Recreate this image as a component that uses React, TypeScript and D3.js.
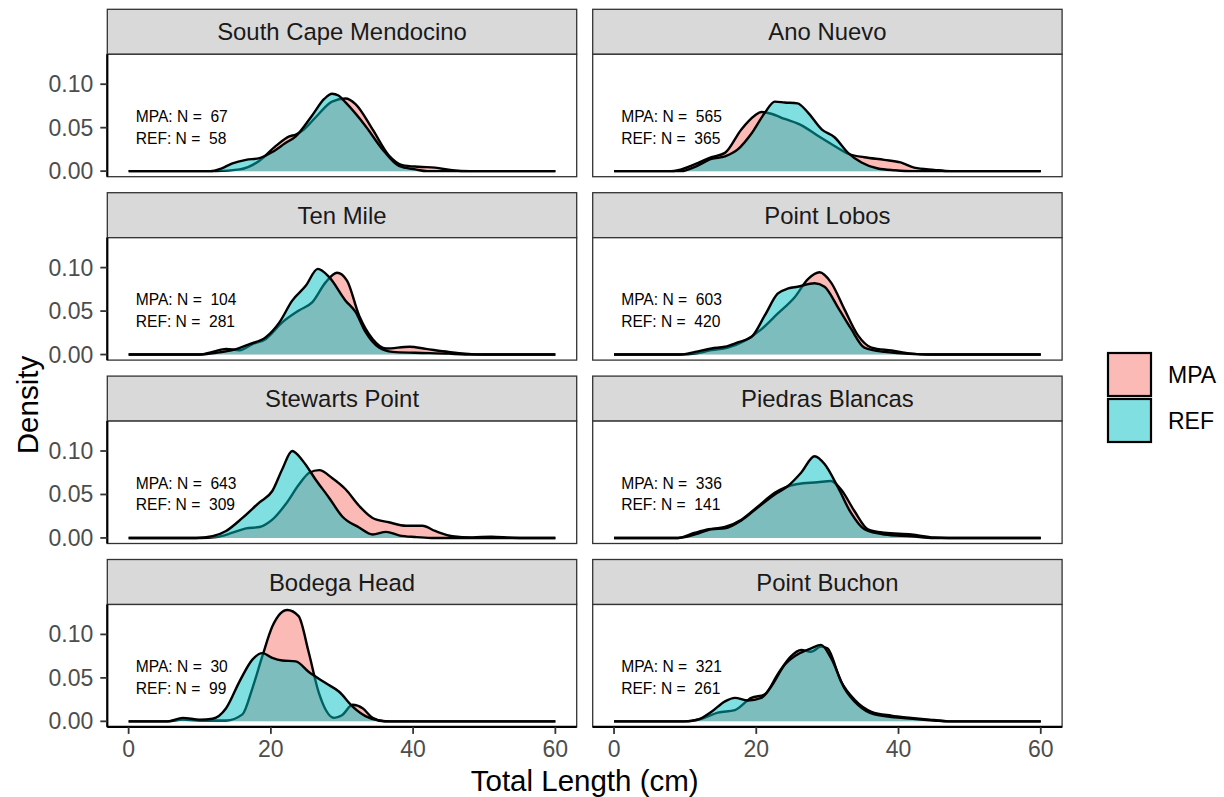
import React from "react";
import * as d3 from "d3";

// ---------- data ----------
const sites = [
  "South Cape Mendocino",
  "Ano Nuevo",
  "Ten Mile",
  "Point Lobos",
  "Stewarts Point",
  "Piedras Blancas",
  "Bodega Head",
  "Point Buchon",
];
const groups = ["MPA", "REF"];
const groupColors = ["#F8766D", "#00BFC4"];
const nMPA = [67, 565, 104, 603, 643, 336, 30, 321];
const nREF = [58, 365, 281, 420, 309, 141, 99, 261];
const xTicks = [0, 20, 40, 60];
const yTicks = [0, 0.05, 0.1];

// density curves: [total length (cm), density]
const southCapeMPA = [[0,0],[12.3,0],[15.6,0.002],[18.4,0.012],[20.7,0.029],[22.6,0.040],[23.5,0.042],[24.5,0.047],[26.3,0.062],[28.6,0.080],[30.5,0.0835],[31.9,0.077],[34.3,0.048],[36.6,0.018],[38.5,0.007],[40.8,0.005],[43.1,0.004],[45.5,0.001],[48,0],[60,0]];
const southCapeREF = [[0,0],[11.5,0],[13,0.003],[14.6,0.009],[16.5,0.013],[18.4,0.015],[20.2,0.022],[22,0.032],[23.5,0.040],[25.8,0.064],[27.5,0.083],[28.6,0.089],[29.5,0.087],[30.5,0.079],[33.3,0.052],[35.7,0.025],[38,0.006],[40.3,0.002],[42,0],[60,0]];
const anoNuevoMPA = [[0,0],[8,0],[9,0.001],[11.4,0.008],[13.7,0.016],[15.6,0.021],[17.9,0.048],[19.8,0.064],[20.7,0.068],[22.1,0.066],[24,0.060],[26.3,0.053],[28.6,0.041],[31,0.029],[32.9,0.020],[35.2,0.016],[38,0.013],[40.3,0.010],[42.2,0.004],[45,0.0015],[47.3,0],[60,0]];
const anoNuevoREF = [[0,0],[9.5,0],[11.4,0.005],[13.7,0.014],[15.6,0.017],[17.4,0.025],[19.3,0.043],[21.2,0.067],[22.6,0.080],[24,0.079],[25.8,0.078],[27.3,0.067],[29.2,0.048],[31,0.039],[32.9,0.021],[34.8,0.010],[37.1,0.003],[39.5,0.001],[42,0],[60,0]];
const tenMileMPA = [[0,0],[10,0],[11.8,0.003],[13.7,0.0065],[15.6,0.005],[17.4,0.012],[19.3,0.018],[21.6,0.037],[24,0.051],[25.8,0.060],[27.7,0.083],[29.3,0.094],[30.7,0.085],[32.4,0.045],[34.3,0.018],[36.2,0.007],[39.5,0.009],[41.8,0.0065],[45,0.003],[47.3,0.001],[50,0],[60,0]];
const tenMileREF = [[0,0],[10,0],[12.3,0.002],[14.6,0.005],[17,0.012],[19.3,0.020],[21.2,0.037],[23,0.062],[24.9,0.079],[26.6,0.0985],[28.2,0.089],[30.5,0.062],[31.9,0.049],[33.3,0.026],[35.2,0.008],[37.1,0.003],[40.3,0.002],[45,0.001],[47.3,0],[60,0]];
const pointLobosMPA = [[0,0],[9.3,0],[11.4,0.001],[13.7,0.005],[16,0.008],[18.4,0.016],[20.7,0.029],[23,0.047],[25.4,0.066],[27.3,0.087],[28.9,0.0946],[30.5,0.083],[32.4,0.052],[34.3,0.022],[36.2,0.008],[39,0.0046],[41.8,0.001],[44,0],[60,0]];
const pointLobosREF = [[0,0],[9.3,0],[11.4,0.003],[13.7,0.007],[15.6,0.009],[17.4,0.014],[19.3,0.020],[21.2,0.045],[23,0.070],[24.5,0.076],[25.8,0.078],[28.2,0.082],[29.6,0.078],[31.5,0.054],[33.3,0.030],[35.2,0.008],[38,0.003],[42.7,0.0005],[45,0],[60,0]];
const stewartsMPA = [[0,0],[10,0],[12.3,0.001],[14.6,0.006],[16.5,0.011],[18.4,0.0126],[20.2,0.021],[22.1,0.039],[24,0.062],[25.4,0.075],[26.8,0.078],[28.6,0.069],[30.5,0.056],[32.4,0.037],[34.3,0.023],[36.6,0.018],[39,0.014],[41.3,0.014],[43.1,0.008],[45.5,0.002],[48.3,0.0005],[51,0.0015],[53.9,0.0003],[56,0],[60,0]];
const stewartsREF = [[0,0],[9.5,0],[11.8,0.002],[13.7,0.008],[16,0.023],[18.4,0.041],[20.2,0.054],[21.6,0.079],[23,0.100],[24.5,0.0885],[26.3,0.067],[28.2,0.046],[30,0.025],[32.4,0.012],[34.3,0.004],[36.2,0.007],[38,0.003],[40.3,0.001],[42.5,0],[60,0]];
const piedrasMPA = [[0,0],[9,0],[11.4,0.006],[13.3,0.010],[15.6,0.0126],[17.9,0.021],[20.2,0.036],[22.6,0.052],[24,0.058],[25.8,0.062],[28.6,0.064],[30.5,0.0655],[31.9,0.056],[33.8,0.031],[35.7,0.010],[38,0.006],[41.8,0.004],[45,0.0005],[47,0],[60,0]];
const piedrasREF = [[0,0],[9,0],[11.4,0.004],[13.7,0.010],[15.6,0.011],[17.9,0.020],[20.2,0.035],[22.6,0.050],[24.5,0.060],[26.3,0.075],[28.2,0.094],[29.6,0.085],[31.5,0.058],[33.3,0.029],[35.2,0.010],[38,0.004],[41.8,0.002],[45,0],[60,0]];
const bodegaMPA = [[0,0],[5.3,0],[7.6,0.002],[10,0.001],[13.7,0.001],[16,0.008],[17.4,0.038],[18.8,0.075],[20.2,0.109],[22.3,0.128],[23.9,0.121],[25.3,0.080],[26.7,0.034],[28.9,0.004],[30,0.007],[31.5,0.019],[32.9,0.015],[34.3,0.004],[36,0],[60,0]];
const bodegaREF = [[0,0],[5.5,0],[7.6,0.004],[10,0.002],[11.8,0.003],[13.7,0.015],[15.6,0.046],[17.4,0.071],[18.8,0.0785],[20.2,0.073],[21.6,0.070],[23.5,0.069],[25.3,0.057],[27.7,0.044],[29.6,0.034],[31.5,0.017],[33.3,0.006],[35.2,0.001],[37,0],[60,0]];
const pointBuchonMPA = [[0,0],[10,0],[12.3,0.003],[14.6,0.010],[17,0.013],[19.3,0.027],[21.2,0.031],[23,0.054],[24.9,0.075],[26.3,0.082],[27.7,0.080],[29.1,0.086],[30,0.084],[31.9,0.046],[33.8,0.025],[36.2,0.011],[39,0.0065],[41.8,0.004],[45,0.0015],[47,0],[60,0]];
const pointBuchonREF = [[0,0],[9.9,0],[11.8,0.002],[13.7,0.011],[15.6,0.023],[17,0.027],[18.8,0.024],[20.7,0.027],[22.1,0.040],[24,0.065],[25.8,0.077],[27.7,0.084],[29.1,0.088],[30.5,0.073],[32.4,0.038],[34.3,0.019],[36.6,0.008],[40.3,0.004],[45,0.001],[47,0],[60,0]];

const curvesMPA = [southCapeMPA, anoNuevoMPA, tenMileMPA, pointLobosMPA, stewartsMPA, piedrasMPA, bodegaMPA, pointBuchonMPA];
const curvesREF = [southCapeREF, anoNuevoREF, tenMileREF, pointLobosREF, stewartsREF, piedrasREF, bodegaREF, pointBuchonREF];

// ---------- layout ----------
const W = 1224;
const H = 797;
const panelLefts = [107.3, 592.7];
const panelW = 469.4;
const stripTop0 = 9.3;
const rowStep = 183.4;
const stripH = 45;
const panelH = 122.4;
const FONT = "'Liberation Sans', Arial, Helvetica, sans-serif";

const xDomainMax = d3.max([...curvesMPA, ...curvesREF].flat(), (d: number[]) => d[0]) as number;
const yMax = d3.max([...curvesMPA, ...curvesREF].flat(), (d: number[]) => d[1]) as number;

export default function App() {
  const x = d3
    .scaleLinear()
    .domain([0 - 0.05 * xDomainMax, xDomainMax * 1.05])
    .range([0, panelW]);
  const y = d3
    .scaleLinear()
    .domain([-0.05 * yMax, yMax * 1.05])
    .range([panelH, 0]);

  const area = d3
    .area<number[]>()
    .x((d) => x(d[0]))
    .y0(y(0))
    .y1((d) => y(d[1]))
    .curve(d3.curveMonotoneX);
  const line = d3
    .line<number[]>()
    .x((d) => x(d[0]))
    .y((d) => y(d[1]))
    .curve(d3.curveMonotoneX);

  const nRows = Math.ceil(sites.length / 2);

  return (
    <svg
      width={W}
      height={H}
      style={{ position: "absolute", left: 0, top: 0, background: "#fff" }}
      fontFamily={FONT}
    >
      <rect x={0} y={0} width={W} height={H} fill="#fff" />
      {sites.map((site, i) => {
        const row = Math.floor(i / 2);
        const col = i % 2;
        const left = panelLefts[col];
        const stripTop = stripTop0 + row * rowStep;
        const top = stripTop + stripH;
        const isBottom = row === nRows - 1;
        const series = [curvesMPA[i], curvesREF[i]];
        return (
          <g key={site}>
            {/* strip */}
            <rect x={left} y={stripTop} width={panelW} height={stripH} fill="#D9D9D9" stroke="#333333" strokeWidth={1.3} />
            <text
              x={left + panelW / 2}
              y={stripTop + stripH / 2}
              textAnchor="middle"
              dominantBaseline="central"
              fontSize={23.9}
              fill="#1A1A1A"
            >
              {site}
            </text>
            {/* panel */}
            <g transform={`translate(${left},${top})`}>
              <rect x={0} y={0} width={panelW} height={panelH} fill="#fff" />
              {series.map((data, g) => (
                <g key={g}>
                  <path d={area(data) || ""} fill={groupColors[g]} fillOpacity={0.5} stroke="none" />
                  <path d={line(data) || ""} fill="none" stroke="#000" strokeWidth={2.4} strokeLinejoin="round" />
                </g>
              ))}
              <text x={x(1)} y={y(0.063)} fontSize={15.6} fill="#000" dominantBaseline="central" style={{ whiteSpace: "pre" }}>
                {`MPA: N =  ${nMPA[i]}`}
              </text>
              <text x={x(1)} y={y(0.038)} fontSize={15.6} fill="#000" dominantBaseline="central" style={{ whiteSpace: "pre" }}>
                {`REF: N =  ${nREF[i]}`}
              </text>
              <rect x={0} y={0} width={panelW} height={panelH} fill="none" stroke="#333333" strokeWidth={1.3} />
              {/* y axis */}
              {col === 0 && (
                <g>
                  <line x1={0} x2={0} y1={0} y2={panelH} stroke="#000" strokeWidth={2.2} />
                  {yTicks.map((t) => (
                    <g key={t}>
                      <line x1={-7} x2={0} y1={y(t)} y2={y(t)} stroke="#333333" strokeWidth={1.8} />
                      <text x={-14} y={y(t)} textAnchor="end" dominantBaseline="central" fontSize={23} fill="#4D4D4D">
                        {d3.format(".2f")(t)}
                      </text>
                    </g>
                  ))}
                </g>
              )}
              {/* x axis */}
              {isBottom && (
                <g>
                  <line x1={0} x2={panelW} y1={panelH} y2={panelH} stroke="#000" strokeWidth={2.2} />
                  {xTicks.map((t) => (
                    <g key={t}>
                      <line x1={x(t)} x2={x(t)} y1={panelH} y2={panelH + 7} stroke="#333333" strokeWidth={1.8} />
                      <text x={x(t)} y={panelH + 22} textAnchor="middle" dominantBaseline="central" fontSize={23} fill="#4D4D4D">
                        {t}
                      </text>
                    </g>
                  ))}
                </g>
              )}
            </g>
          </g>
        );
      })}
      {/* axis titles */}
      <text
        x={(panelLefts[0] + panelLefts[1] + panelW) / 2}
        y={780}
        textAnchor="middle"
        dominantBaseline="central"
        fontSize={29.5}
        fill="#000"
      >
        Total Length (cm)
      </text>
      <text
        transform={`translate(27,405) rotate(-90)`}
        textAnchor="middle"
        dominantBaseline="central"
        fontSize={29.5}
        fill="#000"
      >
        Density
      </text>
      {/* legend */}
      {groups.map((g, k) => (
        <g key={g} transform={`translate(1108,${353 + k * 46})`}>
          <rect x={0} y={0} width={43} height={43} fill={groupColors[k]} fillOpacity={0.5} stroke="#000" strokeWidth={2.2} />
          <text x={60} y={21.5} dominantBaseline="central" fontSize={23} fill="#000">
            {g}
          </text>
        </g>
      ))}
    </svg>
  );
}
